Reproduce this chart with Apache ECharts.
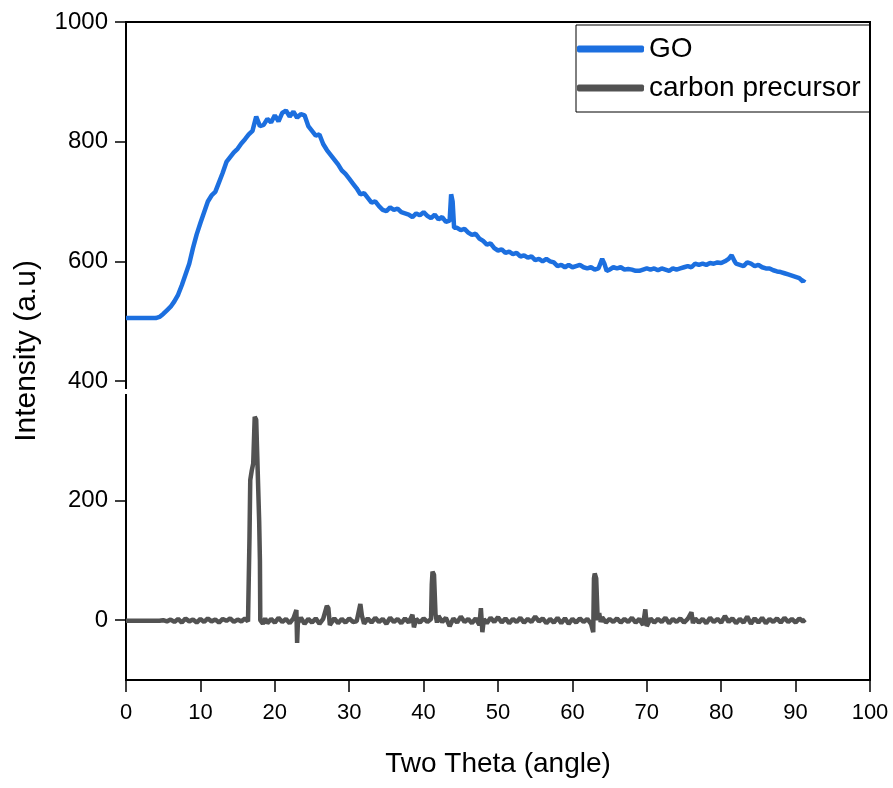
<!DOCTYPE html>
<html>
<head>
<meta charset="utf-8">
<script src="https://cdn.jsdelivr.net/npm/echarts@6/dist/echarts.min.js"></script>
<style>html,body{margin:0;padding:0;background:#fff;}#chart{width:893px;height:788px;}</style>
</head>
<body>
<div id="chart"></div>
<script>
// ---- data ----
const xTicks = [0,10,20,30,40,50,60,70,80,90,100];
const yTicks = [0,200,400,600,800,1000];

const goTheta = [0,0.5,1,1.5,2,2.5,3,3.5,4,4.5,5,5.5,6,6.5,7,7.5,8,8.5,9,9.5,10,10.5,11,11.5,12,12.5,13,13.5,14,14.5,15,15.5,16,16.5,17,17.5,18,18.5,19,19.5,20,20.5,21,21.5,22,22.5,23,23.5,24,24.5,25,25.5,26,26.5,27,27.5,28,28.5,29,29.5,30,30.5,31,31.5,32,32.5,33,33.5,34,34.5,35,35.5,36,36.5,37,37.5,38,38.5,39,39.5,40,40.5,41,41.5,42,42.5,43,43.5,43.7,43.9,44.1,44.5,45,45.5,46,46.5,47,47.5,48,48.5,49,49.5,50,50.5,51,51.5,52,52.5,53,53.5,54,54.5,55,55.5,56,56.5,57,57.5,58,58.5,59,59.5,60,60.5,61,61.5,62,62.5,63,63.5,64,64.3,64.6,65,65.5,66,66.5,67,67.5,68,68.5,69,69.5,70,70.5,71,71.5,72,72.5,73,73.5,74,74.5,75,75.5,76,76.5,77,77.5,78,78.5,79,79.5,80,80.5,81,81.4,81.8,82,82.5,83,83.5,84,84.5,85,85.5,86,86.5,87,87.5,88,88.5,89,89.5,90,90.5,91,91.2];
const goIntensity = [505,505,505,505,505,505,505,505,505,507,512,518,524,533,544,560,578,596,622,645,664,682,700,710,716,732,748,766,774,782,788,797,804,812,818,842,826,828,838,832,844,834,848,852,842,850,840,846,844,826,818,810,812,796,786,778,770,762,752,746,738,730,722,712,714,706,698,700,692,686,684,690,686,688,682,680,678,674,680,677,682,676,672,678,670,674,666,668,712,700,656,656,652,654,648,644,646,638,634,628,630,622,618,620,614,616,612,614,608,610,606,608,602,604,600,604,600,598,592,594,590,594,590,592,594,590,588,590,586,588,604,596,584,586,590,588,590,586,587,586,584,584,586,588,586,588,585,588,586,584,588,586,588,590,592,590,596,594,596,594,597,596,598,597,600,604,610,600,596,594,592,598,596,592,594,590,588,588,585,583,582,580,578,576,574,572,566,570];

const cpTheta = [0,4.5,5,5.5,6,6.5,7,7.5,8,8.5,9,9.5,10,10.5,11,11.5,12,12.5,13,13.5,14,14.5,15,15.5,16,16.4,16.55,16.6,16.7,16.9,17.1,17.3,17.5,17.7,17.9,18.0,18.05,18.4,18.7,19,19.5,20,20.5,21,21.5,22,22.5,22.9,23.0,23.1,23.5,24,24.5,25,25.5,26,26.5,27,27.2,27.4,28,28.5,29,29.5,30,30.5,31,31.5,31.7,32,32.5,33,33.5,34,34.5,35,35.5,36,36.5,37,37.5,38,38.5,38.7,39,39.5,40,40.5,41,41.1,41.2,41.4,41.6,41.8,42,42.5,43,43.5,44,44.5,45,45.5,46,46.5,47,47.5,47.7,47.9,48.1,48.5,49,49.5,50,50.5,51,51.5,52,52.5,53,53.5,54,54.5,55,55.5,56,56.5,57,57.5,58,58.5,59,59.5,60,60.5,61,61.5,62,62.5,62.8,62.9,63.0,63.2,63.4,63.6,63.8,64,64.5,65,65.5,66,66.5,67,67.5,68,68.5,69,69.5,69.8,70,70.5,71,71.5,72,72.5,73,73.5,74,74.5,75,75.5,76,76.2,76.5,77,77.5,78,78.5,79,79.5,80,80.5,81,81.5,82,82.5,83,83.5,84,84.5,85,85.5,86,86.5,87,87.5,88,88.5,89,89.5,90,90.5,91,91.3];
const cpIntensity = [-1,-1,0,-2,1,-3,2,-4,3,-2,1,-4,2,-3,3,-2,1,-4,2,-1,3,-3,1,-2,3,-2,0,140,234,250,262,340,335,250,165,100,0,-6,3,-5,2,-4,4,-3,2,-5,3,17,-38,-5,4,-6,2,-4,3,-6,2,24,20,-8,3,-5,2,-4,3,-3,-2,27,8,-6,3,-4,4,-3,2,-6,4,-3,2,-5,3,-4,9,-12,2,-4,3,-3,2,60,81,76,10,-4,7,-3,4,-10,3,-4,6,-3,2,-5,3,-8,20,-20,2,-5,4,-3,5,-4,3,-5,2,-3,4,-4,2,-3,6,-2,3,-5,2,-4,4,-5,3,-6,2,-4,3,-3,2,-6,-20,70,78,70,0,12,-3,5,-4,2,-3,3,-4,2,-3,4,-4,2,-8,18,-10,3,-4,2,-3,4,-5,2,-3,3,-4,2,13,-5,3,-4,2,-5,4,-3,2,-4,7,-3,3,-5,2,-4,6,-6,3,-4,4,-5,2,-3,3,-4,4,-3,2,-4,3,-2,1];

const goData = goTheta.map((t, i) => [t, goIntensity[i]]);
const cpData = cpTheta.map((t, i) => [t, cpIntensity[i]]);

const FONT = '"Liberation Sans", Arial, sans-serif';
const chart = echarts.init(document.getElementById('chart'), null, {renderer: 'canvas'});
chart.setOption({
  animation: false,
  backgroundColor: '#fff',
  grid: {left: 126, right: 23, top: 22, bottom: 108, show: true, borderColor: '#000', borderWidth: 2, backgroundColor: 'transparent'},
  legend: {
    orient: 'vertical', left: 576, top: 25,
    padding: [10, 9, 10, 1],
    borderColor: '#000', borderWidth: 1,
    itemWidth: 67, itemHeight: 7, itemGap: 11,
    icon: 'roundRect',
    textStyle: {fontFamily: FONT, fontSize: 28, color: '#000'},
    data: ['GO', 'carbon precursor']
  },
  xAxis: {
    type: 'value', min: 0, max: 100, interval: 10,
    name: 'Two Theta (angle)', nameLocation: 'middle', nameGap: 70,
    nameTextStyle: {fontFamily: FONT, fontSize: 28, color: '#000'},
    axisLine: {show: true, onZero: false, lineStyle: {color: '#000', width: 2}},
    axisTick: {show: true, length: 12, lineStyle: {color: '#000', width: 1.5}},
    axisLabel: {fontFamily: FONT, fontSize: 22, color: '#000', margin: 22, customValues: xTicks,
      formatter: v => String(v)},
    splitLine: {show: false}
  },
  yAxis: {
    type: 'value', min: -100, max: 1000, interval: 100,
    name: 'Intensity (a.u)', nameLocation: 'middle', nameGap: 84,
    nameTextStyle: {fontFamily: FONT, fontSize: 30, color: '#000'},
    axisLine: {show: true, onZero: false, lineStyle: {color: '#000', width: 2}},
    axisTick: {show: true, length: 11, lineStyle: {color: '#000', width: 1.5}, customValues: yTicks},
    axisLabel: {fontFamily: FONT, fontSize: 24, color: '#000', margin: 18, customValues: yTicks,
      formatter: v => String(v)},
    splitLine: {show: false}
  },
  graphic: [
    {type: 'rect', z: 100, shape: {x: 122, y: 389, width: 8, height: 5}, style: {fill: '#fff'}}
  ],
  series: [
    {name: 'GO', type: 'line', data: goData, showSymbol: false, symbol: 'none',
     lineStyle: {color: '#1c6fdf', width: 4.5}, itemStyle: {color: '#1c6fdf'}},
    {name: 'carbon precursor', type: 'line', data: cpData, showSymbol: false, symbol: 'none',
     lineStyle: {color: '#525252', width: 4.5}, itemStyle: {color: '#525252'}}
  ]
});
</script>
</body>
</html>
